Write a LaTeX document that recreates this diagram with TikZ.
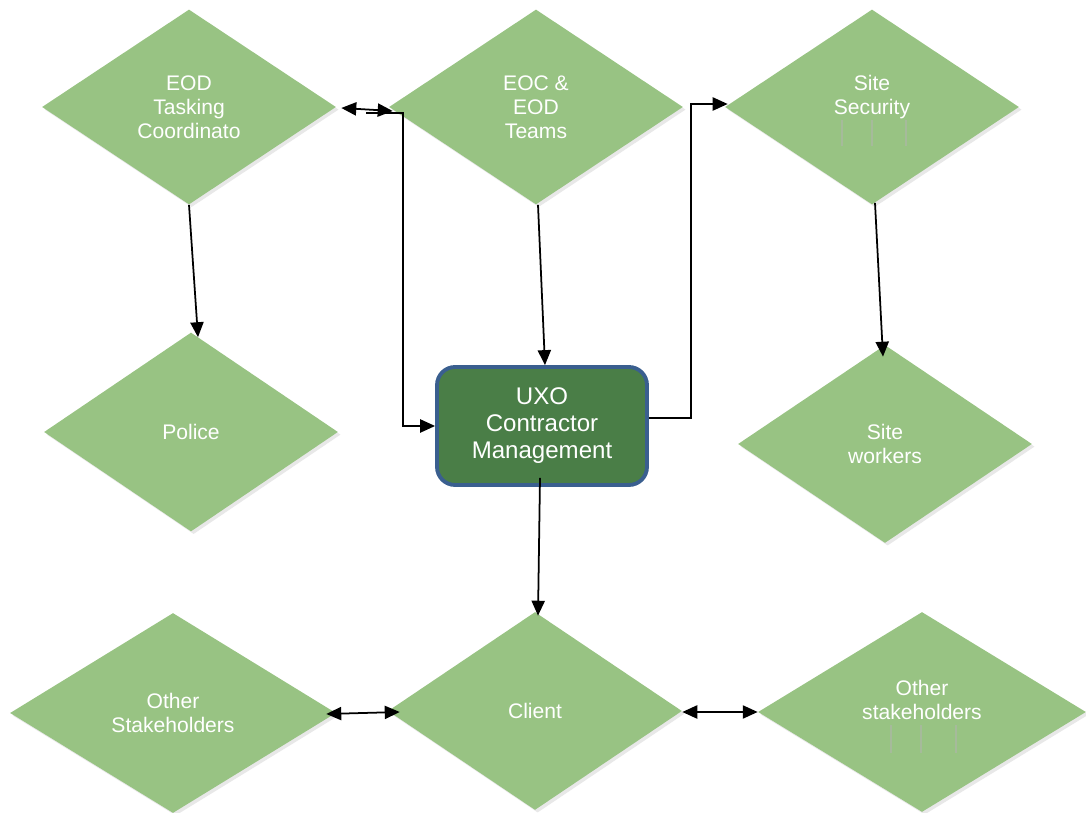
\documentclass[tikz,border=0pt]{standalone}
\usepackage{fontspec}
\setmainfont{Liberation Sans}
\usepackage{tikz}
\usetikzlibrary{%
	shapes.geometric,%
	arrows.meta,%
	shadows%
}
\definecolor{Leaf}{HTML}{98C383}
\definecolor{Moss}{HTML}{4A7E47}
\definecolor{Slate}{HTML}{3A5F8F}
\definecolor{Ghost}{HTML}{A6BA9B}

\tikzset{
	stake/.style={diamond,fill=Leaf,draw=none,text=white,align=center,
		inner sep=0pt,minimum width=5.88cm,minimum height=3.9cm,
		font=\fontsize{12}{13.7}\selectfont,
		drop shadow={shadow xshift=1.5pt,shadow yshift=-1.5pt,opacity=0.18}},
	mgmtbox/.style={rectangle,rounded corners=0.36cm,fill=Moss,draw=Slate,
		line width=2.2pt,text=white,align=center,
		minimum width=4.2cm,minimum height=2.36cm,
		font=\fontsize{13.7}{15.4}\selectfont},
	link/.style={line width=1pt,black}
}

\begin{document}
\begin{tikzpicture}[x=0.02cm,y=-0.02cm,>={Triangle[length=8.5pt,width=7.5pt]}]
\useasboundingbox (0,0) rectangle (1086,813);
% Top row
\node [stake] (eod) at (189,107) {EOD\\Tasking\\Coordinato};
\node [stake] (eoc) at (536,107) {EOC \&\\EOD\\Teams};
\node [stake] (site) at (872,107) {Site\\Security\\\vphantom{C}};
% Middle row
\node [stake,minimum height=3.98cm] (police) at (191,432) {Police};
\node [mgmtbox] (uxo) at (542,426) {UXO\\Contractor\\Management\vphantom{C}};
\node [stake,minimum height=3.96cm] (workers) at (885,444) {Site\\workers};
% Bottom row
\node [stake,minimum width=6.52cm,minimum height=4cm] (others) at (173,713) {Other\\Stakeholders};
\node [stake,minimum height=3.96cm] (client) at (535,711) {Client};
\node [stake,minimum width=6.56cm,minimum height=4cm] (otherr) at (922,712) {Other\\stakeholders\\\vphantom{C}};
% Faint rules left in the text
\foreach \x in {842,872,906} \draw [Ghost,line width=0.6pt] (\x,120) -- (\x,146);
\foreach \x in {891,921,956} \draw [Ghost,line width=0.6pt] (\x,725) -- (\x,753);
% Connectors
\draw [link,->] (eod.south) -- ([shift={(7,5)}]police.north);
\draw [link,->] ([shift={(2,0)}]eoc.south) -- ([shift={(3,0)}]uxo.north);
\draw [link,->] ([shift={(3,-2)}]site.south) -- ([shift={(-2,12)}]workers.north);
\draw [link,->] ([shift={(-2,-9)}]uxo.south) -- ([shift={(3,4)}]client.north);
\draw [link,->] ([shift={(0,-8)}]uxo.east) -- ++(42,0) |- ([shift={(3,-3)}]site.west);
\draw [link,<->] ([shift={(5,1)}]eod.east) -- ([shift={(4,4)}]eoc.west);
\coordinate (tap) at (366,113);
\draw [link,->] (tap) -- ++(37,0) |- (uxo.west);
\draw [link,<->] ([shift={(-10,1)}]others.east) -- ([shift={(12,1)}]client.west);
\draw [link,<->] ([shift={(0,1)}]client.east) -- ([shift={(0,0)}]otherr.west);
\end{tikzpicture}
\end{document}
